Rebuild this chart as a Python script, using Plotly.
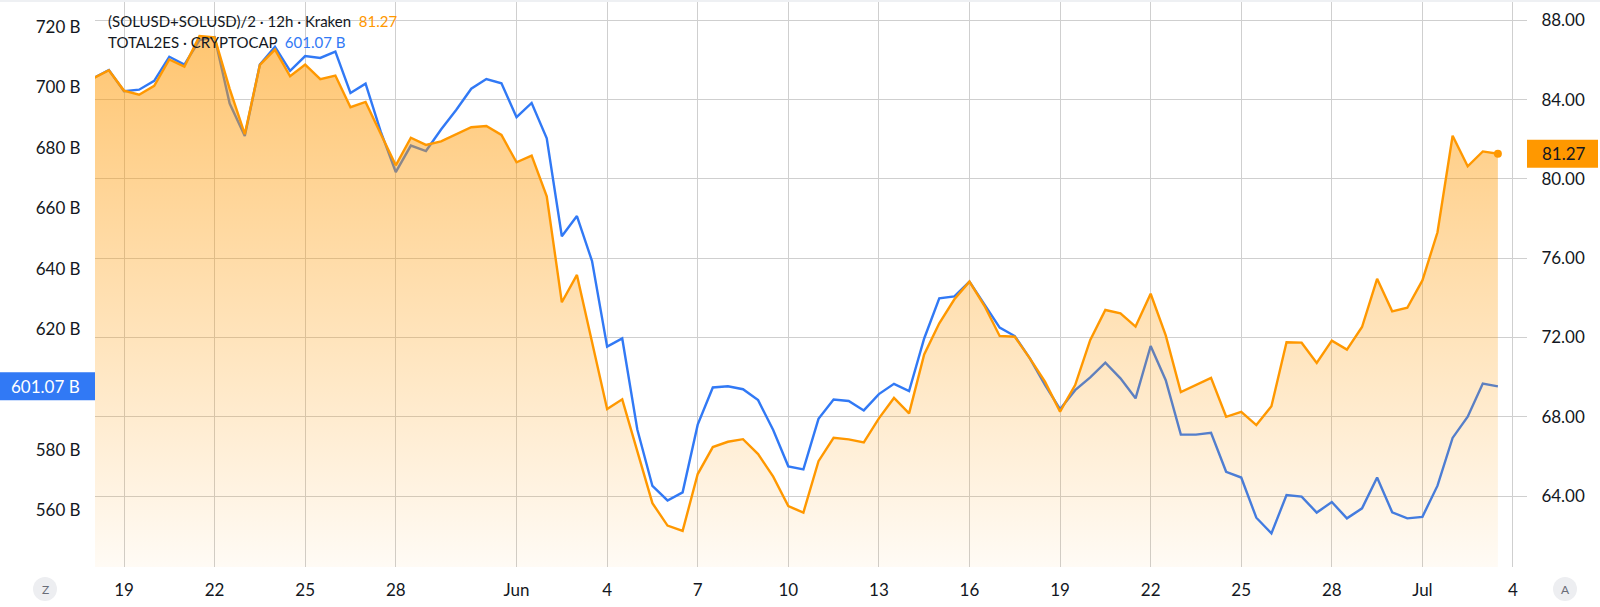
import pandas as pd
import plotly.graph_objects as go

# === data: 12h closes ===
start_time = "2025-05-18 00:00"

# (SOLUSD+SOLUSD)/2 - right axis
sol_price = [
    85.09, 85.49, 84.46, 84.25, 84.70, 86.03, 85.67, 87.21, 87.15, 84.55,
    82.26, 85.76, 86.53, 85.18, 85.77, 85.04, 85.22, 83.62, 83.89, 82.27,
    80.69, 82.08, 81.72, 81.90, 82.26, 82.61, 82.67, 82.22, 80.84, 81.18,
    79.13, 73.78, 75.16, 71.72, 68.39, 68.88, 66.24, 63.64, 62.51, 62.24,
    65.11, 66.47, 66.74, 66.87, 66.12, 64.98, 63.49, 63.17, 65.76, 66.94,
    66.86, 66.71, 67.92, 68.95, 68.17, 71.15, 72.72, 73.93, 74.82, 73.59,
    72.08, 72.04, 70.95, 69.77, 68.26, 69.60, 71.88, 73.39, 73.22, 72.55,
    74.21, 72.11, 69.25, 69.59, 69.96, 68.00, 68.25, 67.58, 68.53, 71.76,
    71.74, 70.72, 71.84, 71.39, 72.53, 74.96, 73.32, 73.50, 74.88, 77.31,
    82.18, 80.64, 81.39, 81.27,
]

# TOTAL2ES (billions) - left axis
total2es = [
    703.1, 705.7, 698.7, 699.2, 702.1, 710.1, 707.5, 715.6, 716.6, 694.6,
    683.9, 707.5, 713.4, 705.4, 710.3, 709.7, 711.8, 698.1, 701.2, 685.4,
    671.9, 680.7, 678.9, 686.0, 692.5, 699.5, 702.7, 701.3, 690.1, 694.8,
    683.1, 650.7, 657.4, 642.5, 614.2, 616.9, 586.8, 568.1, 563.3, 566.0,
    588.4, 600.7, 601.1, 600.1, 596.5, 586.6, 574.6, 573.6, 590.3, 596.7,
    596.2, 593.1, 598.5, 601.9, 599.5, 616.9, 630.2, 630.8, 635.7, 628.0,
    620.5, 617.7, 610.3, 601.5, 593.5, 599.8, 604.0, 608.9, 603.7, 597.1,
    614.4, 603.1, 585.1, 585.1, 585.7, 572.8, 570.9, 557.6, 552.4, 565.1,
    564.6, 559.3, 562.8, 557.4, 560.7, 570.9, 559.4, 557.4, 557.9, 568.2,
    584.0, 591.0, 602.0, 601.07,
]

tick_dates = ["2025-05-19", "2025-05-22", "2025-05-25", "2025-05-28", "2025-06-01",
              "2025-06-04", "2025-06-07", "2025-06-10", "2025-06-13", "2025-06-16",
              "2025-06-19", "2025-06-22", "2025-06-25", "2025-06-28", "2025-07-01",
              "2025-07-04"]
tick_text = ["19", "22", "25", "28", "Jun", "4", "7", "10", "13", "16",
             "19", "22", "25", "28", "Jul", "4"]
left_ticks = [560, 580, 620, 640, 660, 680, 700, 720]
right_ticks = [64, 68, 72, 76, 80, 84, 88]

x_range = ["2025-05-18 00:57", "2025-07-04 11:08"]
y_range = [541.3, 728.2]
y2_range = [60.42, 88.93]

# === style ===
ORANGE = "#FF9800"
BLUE = "#3179F5"
TEXT = "#131722"
GRID = "#CFCFCF"
FONT = "Lato, 'Noto Sans', sans-serif"

W, H = 1600, 607
L, R, T, B = 95, 73, 2, 40
PW, PH = W - L - R, H - T - B


def px_x(px):
    return (px - L) / PW


def px_y(py):
    return 1 - (py - T) / PH


times = pd.date_range(start_time, periods=len(sol_price), freq="12h")
last_sol = sol_price[-1]
last_tot = total2es[-1]

fig = go.Figure()

# TOTAL2ES line (under the SOL area)
fig.add_trace(go.Scatter(
    x=times, y=total2es, yaxis="y", mode="lines",
    line=dict(color=BLUE, width=2.4),
    hoverinfo="skip",
))

# SOL area with vertical gradient
fig.add_trace(go.Scatter(
    x=times, y=sol_price, yaxis="y2", mode="lines",
    line=dict(color=ORANGE, width=2.4),
    fill="tozeroy",
    fillgradient=dict(
        type="vertical",
        start=y2_range[0],
        stop=max(sol_price),
        colorscale=[[0, "rgba(255,152,0,0.04)"], [1, "rgba(255,152,0,0.56)"]],
    ),
    hoverinfo="skip",
))

# last value dot
fig.add_trace(go.Scatter(
    x=[times[-1]], y=[last_sol], yaxis="y2", mode="markers",
    marker=dict(color=ORANGE, size=8),
    hoverinfo="skip",
))

box_h_y = 14 * (y_range[1] - y_range[0]) / PH
box_h_y2 = 14 * (y2_range[1] - y2_range[0]) / PH

shapes = [
    # thin top strip
    dict(type="rect", xref="paper", yref="paper",
         x0=px_x(0), x1=px_x(W), y0=px_y(0), y1=px_y(T),
         fillcolor="#EEF0F3", line=dict(width=0), layer="above"),
    # last value label boxes
    dict(type="rect", xref="paper", yref="y",
         x0=px_x(0), x1=0, y0=last_tot - box_h_y, y1=last_tot + box_h_y,
         fillcolor=BLUE, line=dict(width=0), layer="above"),
    dict(type="rect", xref="paper", yref="y2",
         x0=1, x1=px_x(1598), y0=last_sol - box_h_y2, y1=last_sol + box_h_y2,
         fillcolor=ORANGE, line=dict(width=0), layer="above"),
    # Z / A buttons
    dict(type="circle", xref="paper", yref="paper",
         x0=px_x(45 - 12), x1=px_x(45 + 12), y0=px_y(589 + 12), y1=px_y(589 - 12),
         fillcolor="#EDEEF1", line=dict(width=0)),
    dict(type="circle", xref="paper", yref="paper",
         x0=px_x(1565 - 12), x1=px_x(1565 + 12), y0=px_y(589 + 12), y1=px_y(589 - 12),
         fillcolor="#EDEEF1", line=dict(width=0)),
]

annotations = [
    dict(xref="paper", yref="paper", x=px_x(106), y=px_y(21), xanchor="left", yanchor="middle",
         showarrow=False, font=dict(size=15, color=TEXT),
         text="(SOLUSD+SOLUSD)/2 · 12h · Kraken&nbsp;&nbsp;"
              f"<span style='color:{ORANGE}'>{last_sol:.2f}</span>"),
    dict(xref="paper", yref="paper", x=px_x(106), y=px_y(42), xanchor="left", yanchor="middle",
         showarrow=False, font=dict(size=15, color=TEXT),
         text="TOTAL2ES · CRYPTOCAP&nbsp;&nbsp;"
              f"<span style='color:{BLUE}'>{last_tot:.2f} B</span>"),
    dict(xref="paper", yref="y", x=0, y=last_tot, xanchor="right", yanchor="middle",
         xshift=-13, showarrow=False, font=dict(size=17, color="white"),
         text=f"{last_tot:.2f} B"),
    dict(xref="paper", yref="y2", x=1, y=last_sol, xanchor="left", yanchor="middle",
         xshift=13, showarrow=False, font=dict(size=17, color=TEXT),
         text=f"{last_sol:.2f}"),
    dict(xref="paper", yref="paper", x=px_x(45), y=px_y(589), showarrow=False,
         xanchor="center", yanchor="middle",
         font=dict(size=12, color="#6A6D78"), text="Z"),
    dict(xref="paper", yref="paper", x=px_x(1565), y=px_y(589), showarrow=False,
         xanchor="center", yanchor="middle",
         font=dict(size=12, color="#6A6D78"), text="A"),
]

fig.update_layout(
    width=W, height=H,
    margin=dict(l=L, r=R, t=T, b=B),
    paper_bgcolor="white",
    plot_bgcolor="white",
    showlegend=False,
    font=dict(family=FONT, color=TEXT),
    xaxis=dict(
        type="date", range=x_range,
        tickvals=tick_dates, ticktext=tick_text,
        showgrid=True, gridcolor=GRID, gridwidth=1,
        ticks="outside", ticklen=8, tickcolor="rgba(0,0,0,0)",
        tickfont=dict(size=17, color=TEXT),
        zeroline=False, showline=False,
    ),
    yaxis=dict(
        range=y_range, side="left",
        tickvals=left_ticks, ticktext=[f"{v} B" for v in left_ticks],
        showgrid=False, zeroline=False, showline=False,
        ticks="outside", ticklen=10, tickcolor="rgba(0,0,0,0)",
        tickfont=dict(size=17, color=TEXT),
    ),
    yaxis2=dict(
        range=y2_range, side="right", overlaying="y",
        tickvals=right_ticks, ticktext=[f"{v:.2f}" for v in right_ticks],
        showgrid=True, gridcolor=GRID, gridwidth=1,
        zeroline=False, showline=False,
        ticks="outside", ticklen=10, tickcolor="rgba(0,0,0,0)",
        tickfont=dict(size=17, color=TEXT),
    ),
    shapes=shapes,
    annotations=annotations,
)

# page margin off so the chart sits at the window's corner; no modebar
fig.write_html("out.html", config={"displayModeBar": False},
               post_script="document.body.style.margin='0px';")
